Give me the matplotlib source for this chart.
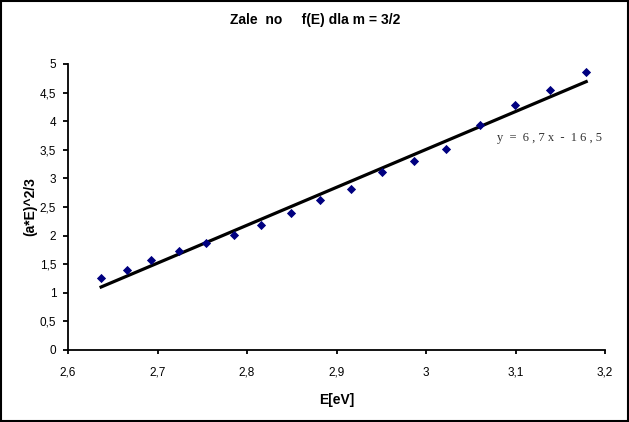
import matplotlib
matplotlib.use("Agg")
import matplotlib.pyplot as plt
import numpy as np
from matplotlib.ticker import FuncFormatter
from matplotlib.patches import Rectangle

E = [2.637, 2.666, 2.693, 2.724, 2.754, 2.785, 2.816, 2.849, 2.882, 2.916,
     2.951, 2.987, 3.022, 3.060, 3.099, 3.139, 3.179]
Y = [1.253, 1.404, 1.566, 1.728, 1.862, 2.019, 2.193, 2.401, 2.616, 2.819,
     3.115, 3.300, 3.521, 3.933, 4.281, 4.542, 4.855]
title = "Zale  no     f(E) dla m = 3/2"
xlabel = "E[eV]"
ylabel = "(a*E)^2/3"
eq_text = "y  =  6 , 7 x  -  1 6 , 5"

plt.rcParams['font.family'] = ['Liberation Sans', 'DejaVu Sans']

fig = plt.figure(figsize=(6.29, 4.22), dpi=100)
ax = fig.add_axes([68/629, 1-350/422, (605-68)/629, (350-64)/422])

ax.scatter(E, Y, marker='D', s=22, color='#000080', zorder=3, linewidths=0)
k, b = np.polyfit(E, Y, 1)
xs = np.array([E[0], E[-1]])
ax.plot(xs, k*xs + b, color='black', lw=2.3, zorder=2)

ax.set_xlim(2.6, 3.2)
ax.set_ylim(0, 5)
ax.set_xticks(np.arange(2.6, 3.21, 0.1))
ax.set_yticks(np.arange(0, 5.01, 0.5))
fmt = FuncFormatter(lambda v, p: ('%g' % round(v, 2)).replace('.', ','))
ax.xaxis.set_major_formatter(fmt)
ax.yaxis.set_major_formatter(fmt)
ax.tick_params(axis='x', labelsize=8.5, length=3, width=1.3, direction='out', pad=9)
ax.tick_params(axis='y', labelsize=8.5, length=3.5, width=1.3, direction='out', pad=5)
for s in ['top', 'right']:
    ax.spines[s].set_visible(False)
for s in ['left', 'bottom']:
    ax.spines[s].set_linewidth(1.3)

ax.set_xlabel(xlabel, fontsize=10, fontweight='bold', labelpad=10)
ax.set_ylabel(ylabel, fontsize=10, fontweight='bold', labelpad=2)
fig.text(315/629, 1-20/422, title, fontsize=10, fontweight='bold', ha='center', va='center')

ax.text(3.079, 3.71, eq_text, fontsize=9, family=['Liberation Serif'], color='#333333', ha='left', va='center')

fig.patches.append(Rectangle((0.0015, 0.002), 0.997, 0.996, transform=fig.transFigure,
                             fill=False, edgecolor='black', lw=1.5))

fig.savefig("out.png", dpi=100)
